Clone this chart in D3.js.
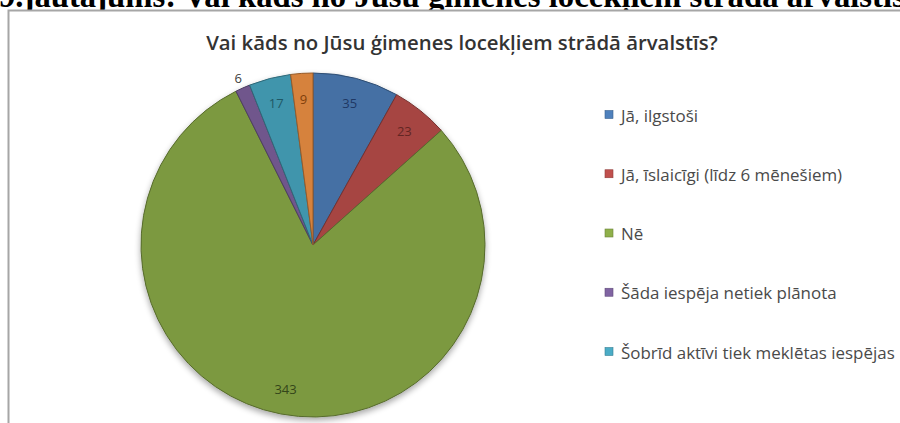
<!DOCTYPE html>
<html>
<head>
<meta charset="utf-8">
<script src="https://cdn.jsdelivr.net/npm/d3@7"></script>
<style>
  html, body { margin: 0; padding: 0; background: #fff; overflow: hidden; }
  svg { display: block; }
</style>
</head>
<body>
<svg id="chart" width="900" height="423"></svg>
<script>
// ---- data ----
const pageHeading = "9.jautājums: Vai kāds no Jūsu ģimenes locekļiem strādā ārvalstīs";
const chartTitle = "Vai kāds no Jūsu ģimenes locekļiem strādā ārvalstīs?";
const categories = [
  "Jā, ilgstoši",
  "Jā, īslaicīgi (līdz 6 mēnešiem)",
  "Nē",
  "Šāda iespēja netiek plānota",
  "Šobrīd aktīvi tiek meklētas iespējas",
  "Cits"
];
const values = [35, 23, 343, 6, 17, 9];
const colors = ["#4f81bd", "#c0504d", "#8fb04a", "#8064a2", "#4bacc6", "#f79646"];
const labelColors = ["#1f3864", "#632523", "#34461a", "#404040", "#1f5866", "#7f3f0b"];
const legendShown = 5; // the last entry is cut off in the original

// ---- drawing ----
const svg = d3.select("#chart");
const defs = svg.append("defs");

// page heading (cropped at the top, as in the original)
const heading = svg.append("text")
  .attr("x", -1).attr("y", 7)
  .attr("font-family", "'Liberation Serif', 'Times New Roman', serif")
  .attr("font-weight", "bold")
  .attr("font-size", 28)
  .attr("fill", "#000")
  .text(pageHeading);
heading.attr("font-size", 28 * 906 / heading.node().getComputedTextLength());

// chart frame
svg.append("rect")
  .attr("x", 8.5).attr("y", 10.5)
  .attr("width", 905).attr("height", 430)
  .attr("fill", "#fff")
  .attr("stroke", "#a6a6a6")
  .attr("stroke-width", 2);

// title
const title = svg.append("text")
  .attr("x", 462).attr("y", 50)
  .attr("text-anchor", "middle")
  .attr("font-family", "'Open Sans', 'Noto Sans', sans-serif")
  .attr("font-weight", 600)
  .attr("font-size", 16)
  .attr("fill", "#333")
  .text(chartTitle);
title.attr("font-size", 16 * 512 / title.node().getComputedTextLength());

// pie
const cx = 313, cy = 245, R = 172;
const pie = d3.pie().sort(null).value(d => d)
  .startAngle(0).endAngle(2 * Math.PI);
const arcs = pie(values);
const arc = d3.arc().innerRadius(0).outerRadius(R);

// shadow filter
const f = defs.append("filter").attr("id", "shadow")
  .attr("x", "-10%").attr("y", "-10%").attr("width", "120%").attr("height", "125%");
f.append("feGaussianBlur").attr("in", "SourceAlpha").attr("stdDeviation", 3).attr("result", "b");
f.append("feOffset").attr("in", "b").attr("dx", 0).attr("dy", 3).attr("result", "o");
f.append("feComponentTransfer").attr("in", "o").attr("result", "s")
  .append("feFuncA").attr("type", "linear").attr("slope", 0.35);
const m = f.append("feMerge");
m.append("feMergeNode").attr("in", "s");
m.append("feMergeNode").attr("in", "SourceGraphic");

colors.forEach((c, i) => {
  const g = defs.append("radialGradient").attr("id", "grad" + i)
    .attr("gradientUnits", "userSpaceOnUse")
    .attr("cx", cx).attr("cy", cy).attr("r", R);
  g.append("stop").attr("offset", "0%").attr("stop-color", d3.color(c).darker(0.1));
  g.append("stop").attr("offset", "88%").attr("stop-color", c);
  g.append("stop").attr("offset", "100%").attr("stop-color", d3.color(c).darker(0.4));
});

const pg = svg.append("g").attr("transform", `translate(${cx},${cy})`)
  .attr("filter", "url(#shadow)");
pg.selectAll("path.slice").data(arcs).enter().append("path")
  .attr("class", "slice")
  .attr("d", arc)
  .attr("fill", (d, i) => `url(#grad${i})`)
  .attr("stroke", (d, i) => d3.color(colors[i]).darker(1.4))
  .attr("stroke-width", 1)
  .attr("stroke-linejoin", "round");

// labels
const labelArcIn = d3.arc().innerRadius(R * 0.85).outerRadius(R * 0.85);
const labelArcOut = d3.arc().innerRadius(R + 11).outerRadius(R + 11);
const lg = svg.append("g").attr("transform", `translate(${cx},${cy})`);
lg.selectAll("text").data(arcs).enter().append("text")
  .attr("transform", d => {
    const a = (d.endAngle - d.startAngle) < 0.09 ? labelArcOut : labelArcIn;
    const [x, y] = a.centroid(d);
    return `translate(${x},${y})`;
  })
  .attr("text-anchor", "middle")
  .attr("dominant-baseline", "central")
  .attr("font-family", "'Open Sans', 'Noto Sans', sans-serif")
  .attr("font-size", 13)
  .attr("fill", (d, i) => labelColors[i])
  .text(d => d.data);

// legend
const legY = d3.scalePoint().domain(d3.range(legendShown)).range([115, 352]);
const leg = svg.append("g");
const items = leg.selectAll("g").data(categories.slice(0, legendShown)).enter().append("g")
  .attr("transform", (d, i) => `translate(605,${legY(i)})`);
items.append("rect")
  .attr("x", 0).attr("y", -4.5).attr("width", 8).attr("height", 8)
  .attr("fill", (d, i) => colors[i])
  .attr("stroke", (d, i) => d3.color(colors[i]).darker(0.8))
  .attr("stroke-width", 0.6);
const legText = items.append("text")
  .attr("x", 16).attr("y", 0)
  .attr("dominant-baseline", "central")
  .attr("font-family", "'Open Sans', 'Noto Sans', sans-serif")
  .attr("font-size", 12)
  .attr("fill", "#4a4a4a")
  .text(d => d);
const longest = d3.max(legText.nodes(), n => n.getComputedTextLength());
legText.attr("font-size", 12 * 274 / longest);
</script>
</body>
</html>
